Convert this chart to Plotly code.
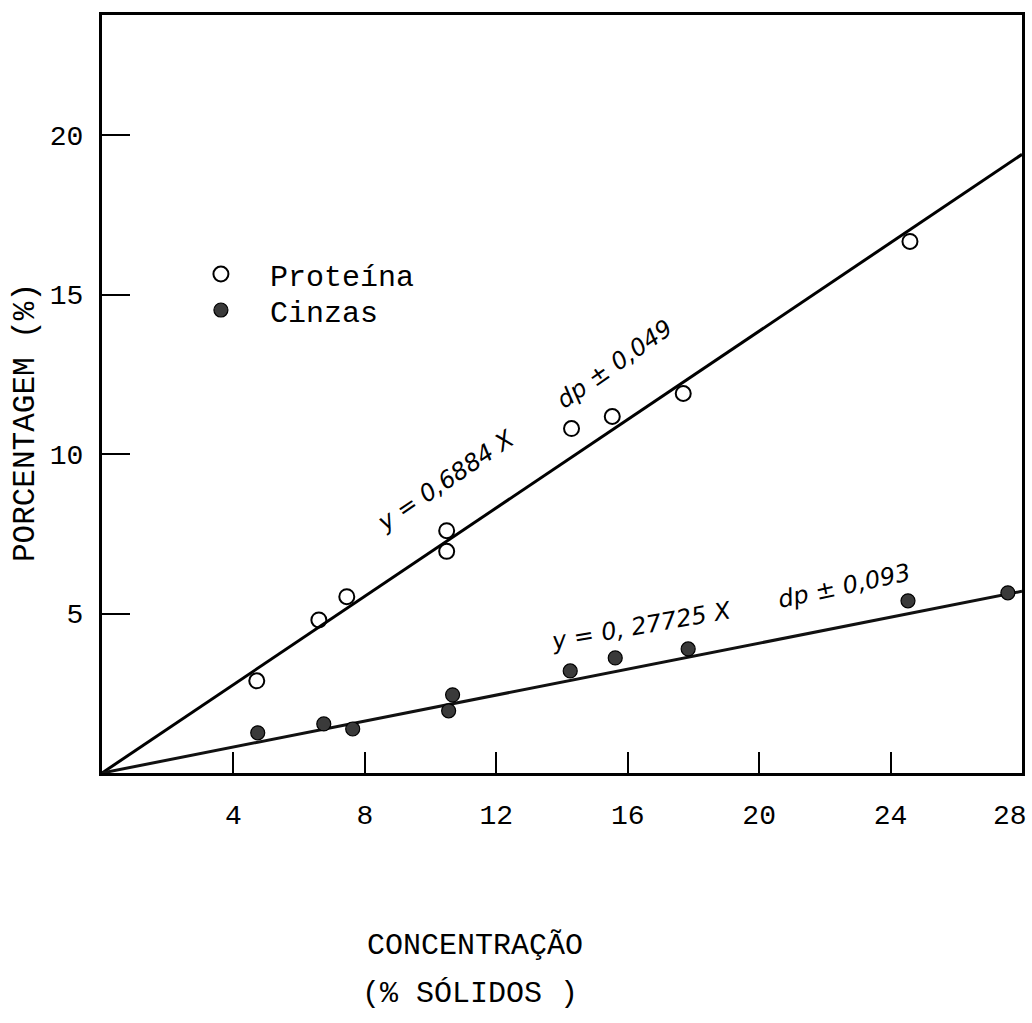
import plotly.graph_objects as go

# ---- data ----
prot_x = [4.71, 6.60, 7.45, 10.49, 10.49, 14.29, 15.53, 17.69, 24.59]
prot_y = [2.89, 4.80, 5.53, 7.60, 6.95, 10.80, 11.18, 11.90, 16.67]

cinz_x = [4.74, 6.75, 7.63, 10.55, 10.67, 14.25, 15.62, 17.84, 24.53, 27.57]
cinz_y = [1.26, 1.54, 1.38, 1.95, 2.45, 3.20, 3.61, 3.89, 5.40, 5.65]

fit_x = [0, 28]
fit_prot = [0, 19.4]
fit_cinz = [0, 5.7]

x_ticks = [4, 8, 12, 16, 20, 24, 28]
x_ticktext = ["4", "8", "12", "16", "20", "24", ""]
x_last_label = "28"
y_ticks = [5, 10, 15, 20]
y_ticktext = ["5", "10", "15", "20"]

mono = "Courier New, Liberation Mono, monospace"
hand = "DejaVu Sans, sans-serif"

fig = go.Figure()

fig.add_trace(go.Scatter(x=fit_x, y=fit_prot, mode="lines",
                         line=dict(color="black", width=3),
                         showlegend=False, hoverinfo="skip"))
fig.add_trace(go.Scatter(x=fit_x, y=fit_cinz, mode="lines",
                         line=dict(color="#111", width=3),
                         showlegend=False, hoverinfo="skip"))

fig.add_trace(go.Scatter(x=prot_x, y=prot_y, mode="markers", name="Proteína",
                         legend="legend",
                         marker=dict(symbol="circle-open", size=15,
                                     color="black", line=dict(width=2))))
fig.add_trace(go.Scatter(x=cinz_x, y=cinz_y, mode="markers", name="Cinzas",
                         legend="legend2",
                         marker=dict(symbol="circle", size=14, color="#3a3a3a",
                                     line=dict(color="black", width=1.2))))

annots = [
    dict(text="y = 0,6884 X", x=10.44, y=9.17, angle=-34, size=24),
    dict(text="dp ± 0,049", x=15.6, y=12.84, angle=-35, size=24),
    dict(text="y = 0, 27725 X", x=16.4, y=4.62, angle=-10, size=24),
    dict(text="dp ± 0,093", x=22.6, y=5.85, angle=-12, size=24),
]
for a in annots:
    fig.add_annotation(x=a["x"], y=a["y"], xref="x", yref="y", text=a["text"],
                       showarrow=False, textangle=a["angle"],
                       font=dict(family=hand, size=a["size"], color="black",
                                 style="italic"))

# last x tick label (sits just inside the right border, as in the original)
fig.add_annotation(x=x_ticks[-1], y=-0.058, xref="x", yref="paper",
                   xanchor="right", yanchor="middle", xshift=7,
                   text=x_last_label, showarrow=False,
                   font=dict(family=mono, size=28, color="black"))

fig.add_annotation(x=0.405, y=-0.228, xref="paper", yref="paper",
                   xanchor="center", yanchor="middle",
                   text="CONCENTRAÇÃO", showarrow=False,
                   font=dict(family=mono, size=30, color="black"))
fig.add_annotation(x=0.40, y=-0.2916, xref="paper", yref="paper",
                   xanchor="center", yanchor="middle",
                   text="(% SÓLIDOS )", showarrow=False,
                   font=dict(family=mono, size=30, color="black"))
fig.add_annotation(x=-0.0837, y=0.463, xref="paper", yref="paper",
                   xanchor="center", yanchor="middle",
                   text="PORCENTAGEM (%)", showarrow=False, textangle=-90,
                   font=dict(family=mono, size=31, color="black"))

leg_common = dict(xanchor="left", yanchor="top", bgcolor="rgba(0,0,0,0)",
                  font=dict(family=mono, size=30, color="black"),
                  itemwidth=88, borderwidth=0)

fig.update_layout(
    width=1032, height=1023,
    margin=dict(l=102, r=10, t=15, b=250),
    paper_bgcolor="white", plot_bgcolor="white",
    showlegend=True,
    legend=dict(x=0.076, y=0.6926, **leg_common),
    legend2=dict(x=0.076, y=0.6451, **leg_common),
    xaxis=dict(range=[0, 28], tickvals=x_ticks, ticktext=x_ticktext,
               ticks="inside", ticklen=21, tickwidth=2, tickcolor="black",
               showline=True, linewidth=3, linecolor="black", mirror=True,
               showgrid=False, zeroline=False, ticklabelstandoff=14,
               automargin=False,
               tickfont=dict(family=mono, size=28, color="black")),
    yaxis=dict(range=[0, 23.77], tickvals=y_ticks, ticktext=y_ticktext,
               ticks="inside", ticklen=28, tickwidth=1.5, tickcolor="black",
               showline=True, linewidth=3, linecolor="black", mirror=True,
               showgrid=False, zeroline=False, ticklabelstandoff=10,
               automargin=False,
               tickfont=dict(family=mono, size=28, color="black")),
)

fig.write_html("out.html")
